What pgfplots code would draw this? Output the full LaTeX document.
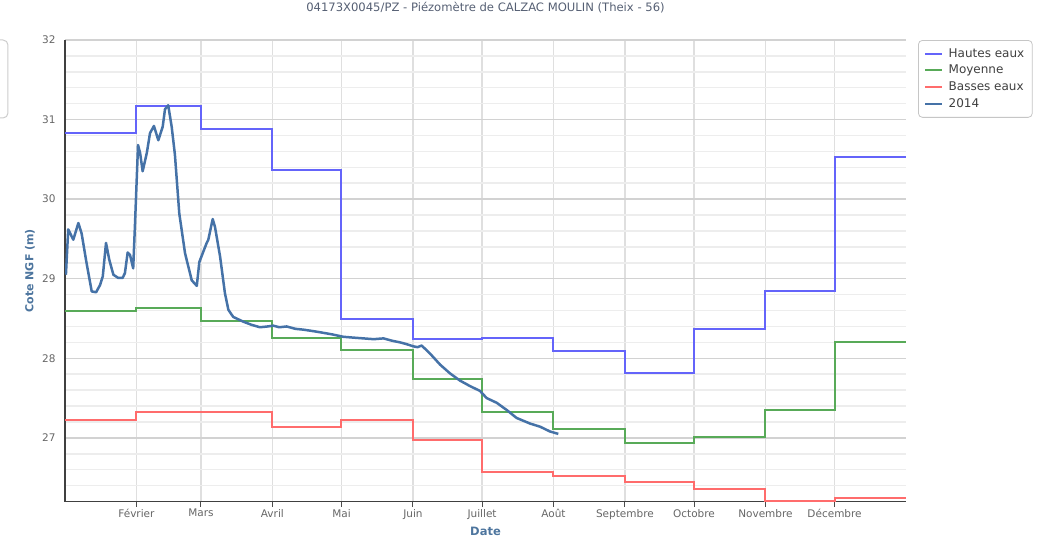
\documentclass[border=0pt]{standalone}
\usepackage{pgfplots}
\pgfplotsset{compat=1.18}
\usepackage{fontspec}
\setmainfont{DejaVu Sans}
\definecolor{hautes}{RGB}{100,100,250}
\definecolor{moyenne}{RGB}{88,170,88}
\definecolor{basses}{RGB}{255,108,108}
\definecolor{serie}{RGB}{69,114,167}
\definecolor{axtitle}{RGB}{77,117,158}
\definecolor{ticklab}{RGB}{102,102,102}
\definecolor{titlecol}{RGB}{85,95,115}
\begin{document}
\begin{tikzpicture}
\useasboundingbox (-65pt,-37.5pt) rectangle (983pt,501.5pt);
\draw[gray!40, rounded corners=5pt, line width=1pt] (-110pt,383.5pt) rectangle (-57pt,461.5pt);
\begin{axis}[
  at={(0,0)}, anchor=south west,
  scale only axis, width=841pt, height=461.5pt,
  xmin=0, xmax=365, ymin=26.2, ymax=32,
  axis x line*=bottom, axis y line*=left,
  axis line style={-, black!75, line width=1.5pt},
  xtick={31,59,90,120,151,181,212,243,273,304,334},
  xticklabels={Février,Mars,Avril,Mai,Juin,Juillet,Août,Septembre,Octobre,Novembre,Décembre},
  ytick={27,28,29,30,31,32},
  minor ytick={26.4,26.6,26.8,27.2,27.4,27.6,27.8,28.2,28.4,28.6,28.8,29.2,29.4,29.6,29.8,30.2,30.4,30.6,30.8,31.2,31.4,31.6,31.8},
  xmajorgrids, ymajorgrids, yminorgrids,
  x grid style={gray!25, line width=1.5pt},
  major grid style={gray!35, line width=1.5pt},
  minor grid style={gray!14, line width=1.5pt},
  tick align=outside,
  xtick style={black!70, line width=1pt},
  major tick length=5pt,
  ytick style={draw=none},
  /pgf/number format/assume math mode=true,
  ticklabel style={font=\fontsize{10.5}{12}\selectfont, text=ticklab},
  yticklabel style={xshift=-1pt},
  xticklabel style={yshift=1pt},
  title={04173X0045/PZ - Piézomètre de CALZAC MOULIN (Theix - 56)},
  title style={at={(0.5,1)}, anchor=center, yshift=26pt, font=\fontsize{11.6}{13}\selectfont, text=titlecol},
  xlabel={Date},
  xlabel style={at={(0.5,0)}, anchor=center, yshift=-30pt, font=\bfseries\fontsize{11.5}{13}\selectfont, text=axtitle},
  ylabel={Cote NGF (m)},
  ylabel style={at={(-0.0416,0.5)}, anchor=center, font=\bfseries\fontsize{11}{13}\selectfont, text=axtitle},
  legend style={at={(1.0143,1)}, anchor=north west, draw=gray!45, rounded corners=4pt,
    font=\fontsize{12}{14}\selectfont, text=black!75, row sep=2.6pt, inner xsep=6pt, inner ysep=6pt,
    line width=0.8pt},
  legend cell align=left,
  legend image code/.code={\draw[#1, line width=2pt] (0pt,0pt) -- (17pt,0pt); \path (20pt,0pt);},
]
\addplot[const plot, hautes, line width=2pt] coordinates {
(0,30.83)(31,31.17)(59,30.88)(90,30.37)(120,28.49)(151,28.24)(181,28.25)(212,28.09)(243,27.81)(273,28.37)(304,28.85)(334,30.53)(365,30.53)};
\addlegendentry{Hautes eaux}
\addplot[const plot, moyenne, line width=2pt] coordinates {
(0,28.59)(31,28.63)(59,28.47)(90,28.26)(120,28.11)(151,27.74)(181,27.33)(212,27.11)(243,26.93)(273,27.01)(304,27.35)(334,28.20)(365,28.20)};
\addlegendentry{Moyenne}
\addplot[const plot, basses, line width=2pt] coordinates {
(0,27.22)(31,27.33)(59,27.32)(90,27.14)(120,27.22)(151,26.97)(181,26.57)(212,26.52)(243,26.44)(273,26.36)(304,26.21)(334,26.24)(365,26.24)};
\addlegendentry{Basses eaux}
\addplot[serie, line width=2.5pt, line join=round] coordinates {
(0.4,29.05)(1.4,29.62)(3.6,29.49)(5.8,29.70)(7.2,29.57)(9.4,29.19)(11.6,28.84)(13.5,28.83)
(15.2,28.92)(16.4,29.03)(17.8,29.45)(19.2,29.24)(21,29.05)(23.1,29.01)(25,29.01)(26,29.07)
(27.2,29.33)(28.2,29.30)(29.6,29.13)(30.4,29.70)(31.7,30.68)(32.6,30.58)(33.7,30.35)(35.5,30.58)
(36.9,30.83)(38.6,30.92)(40.5,30.74)(42.4,30.91)(43.4,31.13)(44.8,31.18)(46.3,30.91)(47.7,30.56)
(49.6,29.82)(52.1,29.32)(55,28.98)(57.2,28.91)(58.3,29.21)(61.5,29.45)(62.2,29.49)(64.1,29.75)
(65.1,29.65)(67.3,29.28)(69.4,28.82)(70.9,28.61)(73,28.52)(77.4,28.46)(81,28.42)(84.6,28.39)
(88,28.40)(90.4,28.41)(93,28.39)(96.2,28.40)(100,28.37)(103.4,28.36)(108,28.34)(112.1,28.32)
(116,28.30)(120.8,28.27)(125,28.26)(129.5,28.25)(134,28.24)(138.2,28.25)(142,28.22)(145.4,28.20)
(148,28.18)(151.2,28.15)(153,28.14)(154.8,28.16)(158.4,28.06)(162.8,27.92)(167.1,27.81)(171.4,27.72)
(175.8,27.65)(180.1,27.59)(183,27.50)(187.4,27.44)(191.7,27.35)(196,27.25)(201.8,27.18)(206.2,27.14)
(210.5,27.08)(214.1,27.05)};
\addlegendentry{2014}
\end{axis}
\end{tikzpicture}
\end{document}
